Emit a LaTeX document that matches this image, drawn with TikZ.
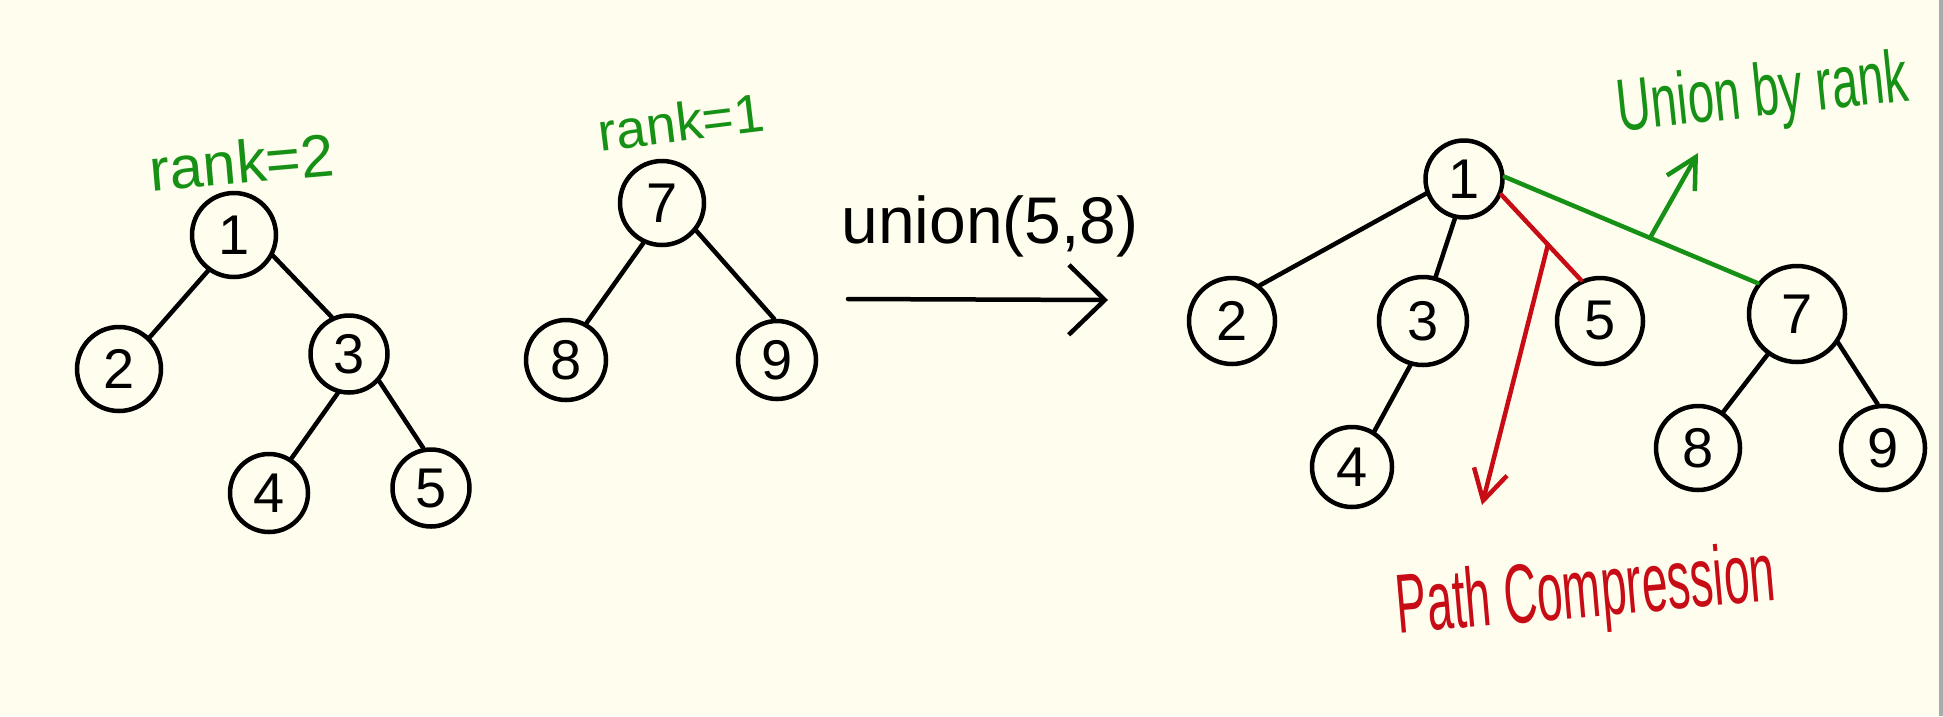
\documentclass[tikz,border=0pt]{standalone}
\usepackage{fontspec}
\setmainfont{Liberation Sans}
\newfontfamily\ubrfont[FakeStretch=0.64]{Liberation Sans}
\newfontfamily\pcfont[FakeStretch=0.55]{Liberation Sans}
\usetikzlibrary{arrows.meta}
\definecolor{bg}{RGB}{255,253,238}
\definecolor{hgreen}{RGB}{22,145,22}
\definecolor{hred}{RGB}{200,12,22}
\definecolor{edgegray}{RGB}{170,170,170}
\tikzset{
  nd/.style={circle, draw=black, line width=4.5pt, inner sep=0pt, fill=none,
    font=\fontsize{56}{60}\selectfont},
  stroke/.style={line width=4.5pt, line cap=round},
  txt/.style={inner sep=0pt, outer sep=0pt},
}
\begin{document}
\begin{tikzpicture}[x=1pt,y=-1pt]
\fill[bg] (0,0) rectangle (1943,716);
\useasboundingbox (0,0) rectangle (1943,716);
\fill[edgegray] (1939,0) rectangle (1943,716);

% ---------- left tree (rank 2) ----------
\node[nd, minimum size=84pt] (L1) at (234,235) {1};
\node[nd, minimum size=84pt] (L2) at (119,369) {2};
\node[nd, minimum size=77pt] (L3) at (349,354) {3};
\node[nd, minimum size=78pt] (L4) at (269,493) {4};
\node[nd, minimum size=77pt] (L5) at (431,488) {5};
\draw[stroke] (L1.-126) -- (L2.46);
\draw[stroke] (L1.-28) -- (L3.115);
\draw[stroke] (L3.-106) -- (L4.57);
\draw[stroke] (L3.-42) -- (L5.101);
\node[txt, text=hgreen, font=\fontsize{60}{64}\selectfont, rotate=5] (rk2) at (242,162) {rank=2};

% ---------- middle tree (rank 1) ----------
\node[nd, minimum size=84pt] (L7) at (662,203) {7};
\node[nd, minimum size=80pt] (L8) at (566,360) {8};
\node[nd, minimum size=78pt] (L9) at (777,360) {9};
\draw[stroke] (L7.-115) -- (L8.61);
\draw[stroke] (L7.-39) -- (L9.94);
\node[txt, text=hgreen, font=\fontsize{54}{58}\selectfont, rotate=7] (rk1) at (681,122) {rank=1};

% ---------- union arrow ----------
\node[txt, font=\fontsize{66}{70}\selectfont] (un) at (990,226) {union(5,8)};
\coordinate (a0) at (848,299);
\coordinate (a1) at (1108,300);
\draw[stroke, -{Straight Barb[length=36pt,width=70pt]}] (a0) -- (a1);

% ---------- right tree (result) ----------
\node[nd, minimum size=77pt] (R1) at (1464,179) {1};
\node[nd, minimum size=86pt] (R2) at (1232,321) {2};
\node[nd, minimum size=88pt] (R3) at (1423,321) {3};
\node[nd, minimum size=86pt] (R5) at (1600,321) {5};
\node[nd, minimum size=96pt] (R7) at (1797,314) {7};
\node[nd, minimum size=80pt] (R4) at (1352,467) {4};
\node[nd, minimum size=84pt] (R8) at (1698,448) {8};
\node[nd, minimum size=84pt] (R9) at (1883,448) {9};
\draw[stroke] (R1.-159) -- (R2.52);
\draw[stroke] (R1.-103) -- (R3.74);
\draw[stroke] (R3.-106) -- (R4.58);
\draw[stroke] (R7.-126) -- (R8.55);
\draw[stroke] (R7.-35) -- (R9.97);
\draw[stroke, hgreen] (R1.3) -- coordinate[pos=0.575] (gmid) (R7.142);
\draw[stroke, hred] (R1.-23) -- coordinate[pos=0.585] (rmid) (R5.115);

\coordinate (gtip) at (1698,153);
\draw[stroke, hgreen, -{Straight Barb[length=30pt,width=32pt]}] (gmid) -- (gtip);
\coordinate (rtip) at (1482,505);
\draw[stroke, hred, -{Straight Barb[length=30pt,width=34pt]}] (rmid) -- (rtip);

\node[txt, text=hgreen, font=\ubrfont\fontsize{74}{78}\selectfont, rotate=6, anchor=base] (ubr) at (1765,116) {Union by rank};
\node[txt, text=hred, font=\pcfont\fontsize{84}{88}\selectfont, rotate=5, anchor=base] (pc) at (1588,617) {Path Compression};
\end{tikzpicture}
\end{document}
